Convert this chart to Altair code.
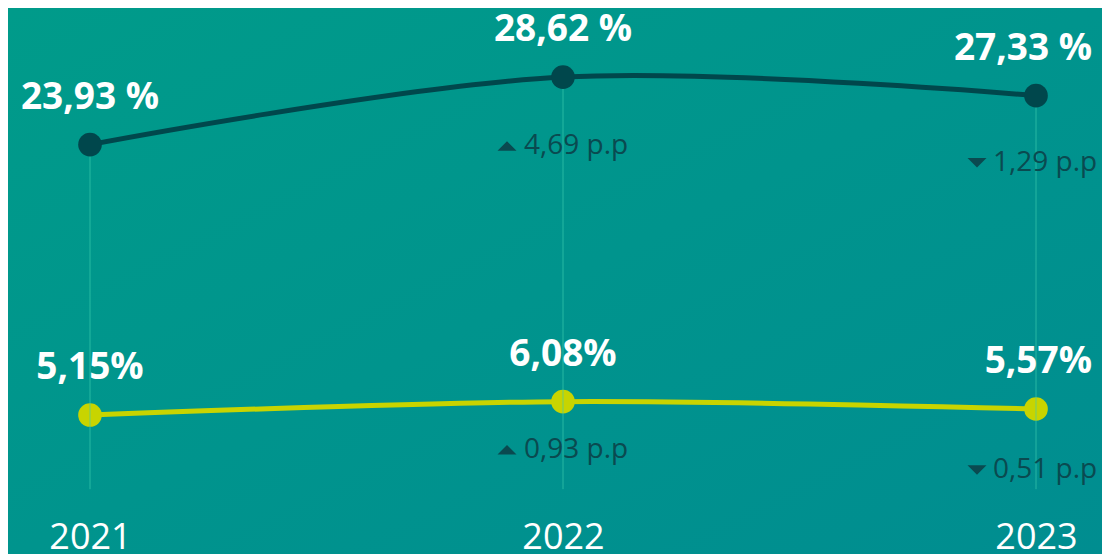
import altair as alt
import pandas as pd

years = [2021, 2022, 2023]
rate_a = [23.93, 28.62, 27.33]
rate_b = [5.15, 6.08, 5.57]
label_a = ["23,93 %", "28,62 %", "27,33 %"]
label_b = ["5,15%", "6,08%", "5,57%"]
change_a = ["", "4,69 p.p", "1,29 p.p"]
change_b = ["", "0,93 p.p", "0,51 p.p"]
direction_a = ["", "up", "down"]
direction_b = ["", "up", "down"]

rows = []
for i, y in enumerate(years):
    rows.append(dict(year=y, series="a", value=rate_a[i], label=label_a[i],
                     change=change_a[i], dir=direction_a[i], key=f"a{y}"))
    rows.append(dict(year=y, series="b", value=rate_b[i], label=label_b[i],
                     change=change_b[i], dir=direction_b[i], key=f"b{y}"))
df = pd.DataFrame(rows)

W, H = 1094, 500
PAD_B = 50
PX_PER_YEAR = 473.0
PX_PER_UNIT = 14.4
DARK = "#00474c"
YELLOW = "#c8d400"
CHG = "#0a4a50"

xs = alt.Scale(domain=[2021 - 82 / PX_PER_YEAR, 2023 + 66 / PX_PER_YEAR], nice=False, zero=False)
ys = alt.Scale(domain=[-(H - 481.2) / PX_PER_UNIT, 481.2 / PX_PER_UNIT], nice=False, zero=False)

base = alt.Chart(df)
xaxis = alt.Axis(values=years, format="d", title=None, domain=False, ticks=False,
                 grid=False, labelColor="white", labelFontSize=36,
                 labelFont="Open Sans", labelPadding=12, labelFlush=False, zindex=2)
X = alt.X("year:Q", scale=xs, axis=xaxis)
Y = alt.Y("value:Q", scale=ys, axis=None)

grad = alt.LinearGradient(
    gradient="linear", x1=0, y1=0, x2=1, y2=1,
    stops=[alt.GradientStop(offset=0, color="#009b8a"),
           alt.GradientStop(offset=1, color="#008d90")])
bg = alt.Chart(pd.DataFrame({"k": [0]})).mark_rect(color=grad).encode(
    x=alt.value(0), x2=alt.value(W), y=alt.value(0), y2=alt.value(H + PAD_B))

line_b = base.transform_filter("datum.series=='b'").mark_line(
    color=YELLOW, strokeWidth=5, interpolate="cardinal").encode(x=X, y=Y)
pts_b = base.transform_filter("datum.series=='b'").mark_circle(
    color=YELLOW, opacity=1, size=560).encode(x=X, y=Y)

rules = base.transform_filter("datum.series=='a'").transform_calculate(zero="0").mark_rule(
    color="#3ccdb0", strokeWidth=1, opacity=0.65).encode(
    x=X, y=alt.Y("zero:Q", scale=ys, axis=None), y2="value:Q")

line_a = base.transform_filter("datum.series=='a'").mark_line(
    color=DARK, strokeWidth=5, interpolate="cardinal").encode(x=X, y=Y)
pts_a = base.transform_filter("datum.series=='a'").mark_circle(
    color=DARK, opacity=1, size=560).encode(x=X, y=Y)

val_text = base.transform_filter("datum.year<2023").mark_text(
    color="white", font="Open Sans", fontWeight="bold", fontSize=37, dy=-36,
    baseline="alphabetic", align="center").encode(x=X, y=Y, text="label:N")
val_text_last = base.transform_filter("datum.year==2023").mark_text(
    color="white", font="Open Sans", fontWeight="bold", fontSize=37, dy=-36, dx=56,
    baseline="alphabetic", align="right").encode(x=X, y=Y, text="label:N")

UP = "M-1,0.5L1,0.5L0,-0.5Z"
DOWN = "M-1,-0.5L1,-0.5L0,0.5Z"
# (vertical offset, text dx, triangle dx) in pixels for each change label
offsets = {"a2022": (69, -39, -56), "a2023": (67, -43, -59),
           "b2022": (48, -39, -56), "b2023": (61, -43, -59)}
chg_layers = []
for key, (dy, tdx, tri_dx) in offsets.items():
    sub = base.transform_filter(f"datum.key=='{key}'")
    chg_layers.append(sub.mark_text(
        color=CHG, font="Open Sans", fontSize=28, dy=dy, dx=tdx, align="left",
        baseline="middle").encode(x=X, y=Y, text="change:N"))
    shape = UP if key.endswith("2022") else DOWN
    chg_layers.append(sub.transform_calculate(
        tx=f"datum.year + ({tri_dx}) / {PX_PER_YEAR}",
        ty=f"datum.value - ({dy}) / {PX_PER_UNIT}",
    ).mark_point(shape=shape, filled=True, color=CHG, opacity=1, size=361).encode(
        x=alt.X("tx:Q", scale=xs, axis=xaxis), y=alt.Y("ty:Q", scale=ys, axis=None)))

chart = alt.layer(bg, line_b, pts_b, rules, line_a, pts_a, val_text, val_text_last, *chg_layers).properties(
    width=W, height=H, padding={"left": 0, "top": 0, "right": 0, "bottom": PAD_B},
    background="#008f8f",
    autosize=alt.AutoSizeParams(type="none"),
).configure_view(stroke=None)

chart.save("out.html", embed_options={"renderer": "svg", "actions": False})
